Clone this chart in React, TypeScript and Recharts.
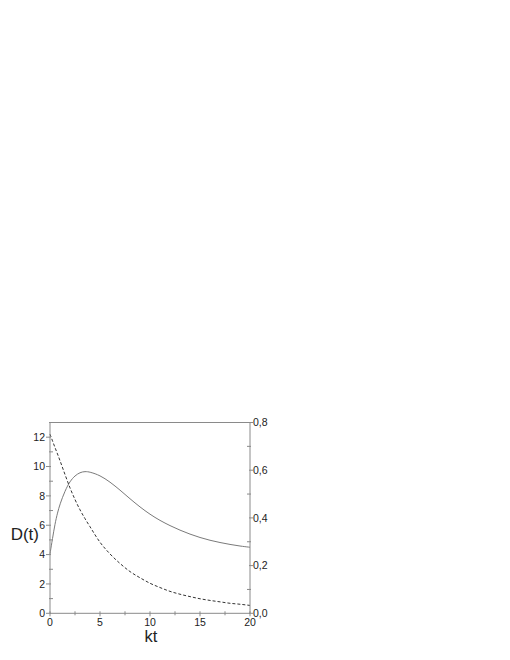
import React from 'react';
import { LineChart, Line, XAxis, YAxis, ReferenceLine, Label } from 'recharts';

const ktValues = [0, 0.25, 0.5, 0.75, 1, 1.5, 2, 2.5, 3, 3.5, 4, 5, 6, 7, 8, 9, 10, 11, 12, 13, 14, 15, 16, 17, 18, 19, 20];
const solidD = [4.05, 5.1, 6.1, 6.85, 7.45, 8.35, 9.0, 9.38, 9.6, 9.67, 9.63, 9.4, 8.95, 8.4, 7.8, 7.24, 6.74, 6.32, 5.97, 5.66, 5.39, 5.16, 4.97, 4.82, 4.69, 4.58, 4.5];
const dashedRight = [0.751, 0.723, 0.695, 0.668, 0.64, 0.582, 0.526, 0.477, 0.434, 0.397, 0.363, 0.298, 0.249, 0.209, 0.175, 0.149, 0.126, 0.108, 0.092, 0.08, 0.07, 0.061, 0.054, 0.048, 0.042, 0.038, 0.033];

const xTicks = [0, 2.5, 5, 7.5, 10, 12.5, 15, 17.5, 20];
const leftTicks = [0, 1, 2, 3, 4, 5, 6, 7, 8, 9, 10, 11, 12, 13];
const rightTicks = [0, 0.1, 0.2, 0.3, 0.4, 0.5, 0.6, 0.7, 0.8];

const data = ktValues.map((kt, i) => ({ kt, d: solidD[i], r: dashedRight[i] }));

const FONT = '"Liberation Sans", Arial, sans-serif';
const AXIS = '#8a8a8a';
const TXT = '#222';

const XTick = (props: any) => {
  const { x, y, payload } = props;
  const v = payload.value;
  const major = v % 5 === 0;
  return (
    <g>
      <line x1={x} x2={x} y1={y - 2} y2={y + (major ? 3 : 2)} stroke={AXIS} />
      {major && (
        <text x={x} y={y + 12.5} textAnchor="middle" fontSize={10.5} fontFamily={FONT} fill={TXT}>
          {v}
        </text>
      )}
    </g>
  );
};

const LeftTick = (props: any) => {
  const { x, y, payload } = props;
  const v = payload.value;
  const major = v % 2 === 0;
  return (
    <g>
      <line x1={major ? x - 4 : x - 1} x2={major ? x + 1 : x + 3} y1={y} y2={y} stroke={AXIS} />
      {major && (
        <text x={x - 5} y={y} dy="0.36em" textAnchor="end" fontSize={10.5} fontFamily={FONT} fill={TXT}>
          {v}
        </text>
      )}
    </g>
  );
};

const RightTick = (props: any) => {
  const { x, y, payload } = props;
  const v = payload.value;
  const idx = Math.round(v * 10);
  const major = idx % 2 === 0;
  return (
    <g>
      <line x1={major ? x - 1 : x - 3} x2={major ? x + 3 : x + 1} y1={y} y2={y} stroke={AXIS} />
      {major && (
        <text x={x + 3} y={y} dy="0.36em" textAnchor="start" fontSize={10.5} fontFamily={FONT} fill={TXT}>
          {v.toFixed(1).replace('.', ',')}
        </text>
      )}
    </g>
  );
};

const YTitle = (props: any) => {
  const vb = props.viewBox || {};
  return (
    <text x={vb.x + vb.width - 11} y={vb.y + vb.height * 0.618} textAnchor="end" fontSize={17} fontFamily={FONT} fill={TXT}>
      D(t)
    </text>
  );
};

const XTitle = (props: any) => {
  const vb = props.viewBox || {};
  return (
    <text x={vb.x + vb.width / 2 + 1} y={vb.y + 28.5} textAnchor="middle" fontSize={16.5} fontFamily={FONT} fill={TXT}>
      kt
    </text>
  );
};

export default function App() {
  return (
    <div style={{ width: 500, height: 640 }}>
      <LineChart
        width={500}
        height={640}
        data={data}
        margin={{ top: 414.5, right: 218, bottom: 4.7, left: 0 }}
      >
        <XAxis
          dataKey="kt"
          type="number"
          domain={[0, 20]}
          ticks={xTicks}
          interval={0}
          height={30}
          tickSize={0}
          tickMargin={0}
          tickLine={false}
          axisLine={{ stroke: AXIS }}
          tick={<XTick />}
        >
          <Label content={<XTitle />} />
        </XAxis>
        <YAxis
          yAxisId="left"
          orientation="left"
          type="number"
          domain={[0, 13]}
          ticks={leftTicks}
          interval={0}
          width={42}
          tickSize={0}
          tickMargin={0}
          tickLine={false}
          axisLine={{ stroke: AXIS }}
          tick={<LeftTick />}
        >
          <Label content={<YTitle />} />
        </YAxis>
        <YAxis
          yAxisId="right"
          orientation="right"
          type="number"
          domain={[0, 0.8]}
          ticks={rightTicks}
          interval={0}
          width={40}
          tickSize={0}
          tickMargin={0}
          tickLine={false}
          axisLine={{ stroke: AXIS }}
          tick={<RightTick />}
        />
        <ReferenceLine yAxisId="left" y={13} stroke={AXIS} />
        <Line
          yAxisId="left"
          dataKey="d"
          type="basis"
          stroke="#7a7a7a"
          strokeWidth={1}
          dot={false}
          isAnimationActive={false}
        />
        <Line
          yAxisId="right"
          dataKey="r"
          type="monotone"
          stroke="#333"
          strokeWidth={1}
          strokeDasharray="3 2"
          dot={false}
          isAnimationActive={false}
        />
      </LineChart>
    </div>
  );
}
